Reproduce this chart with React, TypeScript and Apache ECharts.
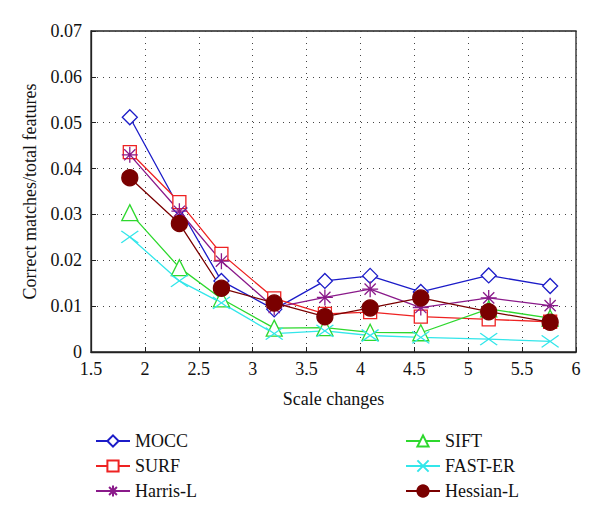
import React, { useEffect, useRef } from "react";
import * as echarts from "echarts";

const scaleX = [1.86, 2.32, 2.71, 3.2, 3.67, 4.09, 4.56, 5.19, 5.76];
const mocc = [0.0512, 0.0314, 0.0155, 0.0093, 0.0155, 0.0166, 0.0131, 0.0167, 0.0144];
const surf = [0.0436, 0.0327, 0.0214, 0.0117, 0.0083, 0.0087, 0.0077, 0.0071, 0.0066];
const harris = [0.043, 0.0307, 0.0198, 0.0097, 0.0119, 0.0137, 0.0097, 0.0118, 0.0101];
const sift = [0.0304, 0.0184, 0.0116, 0.0052, 0.0053, 0.0043, 0.0042, 0.0094, 0.0074];
const fast = [0.0251, 0.0155, 0.0107, 0.004, 0.0046, 0.0036, 0.0032, 0.0028, 0.0023];
const hessian = [0.038, 0.028, 0.0139, 0.0107, 0.0077, 0.0096, 0.0118, 0.0088, 0.0065];

const legendLeft = ["MOCC", "SURF", "Harris-L"];
const legendRight = ["SIFT", "FAST-ER", "Hessian-L"];

const FONT = "Liberation Serif";

const ASTERISK = "path://M0,5 L10,5 M5,0 L5,10 M1.5,1.5 L8.5,8.5 M8.5,1.5 L1.5,8.5";
const XCROSS = "path://M0,0 L14,10 M14,0 L0,10";

function pairs(ys: number[]) {
  return ys.map((y, i) => [scaleX[i], y]);
}

function mk(name: string, ys: number[], color: string, symbol: string, size: any, fill: string) {
  return {
    name,
    type: "line",
    data: pairs(ys),
    symbol,
    symbolSize: size,
    lineStyle: { color, width: 1.3 },
    itemStyle: { color: fill, borderColor: color, borderWidth: 1.3 },
    emphasis: { disabled: true },
  };
}

export default function App() {
  const ref = useRef<HTMLDivElement>(null);
  useEffect(() => {
    if (!ref.current) return;
    const chart = echarts.init(ref.current, null, { renderer: "svg" });
    const legendText = { fontFamily: FONT, fontSize: 18, color: "#111" };
    chart.setOption({
      animation: false,
      backgroundColor: "#fff",
      textStyle: { fontFamily: FONT },
      grid: {
        left: 91,
        right: 24,
        top: 31,
        bottom: 168,
        show: true,
        borderColor: "#222",
        borderWidth: 1.3,
        backgroundColor: "transparent",
      },
      xAxis: {
        type: "value",
        min: 1.5,
        max: 6,
        interval: 0.5,
        name: "Scale changes",
        nameLocation: "middle",
        nameGap: 38,
        nameTextStyle: { fontFamily: FONT, fontSize: 18, color: "#111" },
        axisLine: { show: true, lineStyle: { color: "#222", width: 1.3 } },
        axisTick: { show: true, inside: true, length: 5, lineStyle: { color: "#222" } },
        axisLabel: { fontFamily: FONT, fontSize: 18, color: "#111", margin: 8 },
        splitLine: { show: true, lineStyle: { color: "#444", type: [1, 5], width: 1 } },
      },
      yAxis: {
        type: "value",
        min: 0,
        max: 0.07,
        interval: 0.01,
        name: "Correct matches/total features",
        nameLocation: "middle",
        nameGap: 52,
        nameTextStyle: { fontFamily: FONT, fontSize: 18, color: "#111" },
        axisLine: { show: true, lineStyle: { color: "#222", width: 1.3 } },
        axisTick: { show: true, inside: true, length: 5, lineStyle: { color: "#222" } },
        axisLabel: {
          fontFamily: FONT,
          fontSize: 18,
          color: "#111",
          margin: 9,
          formatter: (v: number) => (v === 0 ? "0" : v.toFixed(2)),
        },
        splitLine: { show: true, lineStyle: { color: "#444", type: [1, 5], width: 1 } },
      },
      legend: [
        {
          data: legendLeft,
          orient: "vertical",
          left: 90,
          top: 427,
          itemWidth: 34,
          itemHeight: 14,
          itemGap: 7,
          textStyle: legendText,
        },
        {
          data: legendRight,
          orient: "vertical",
          left: 400,
          top: 427,
          itemWidth: 34,
          itemHeight: 14,
          itemGap: 7,
          textStyle: legendText,
        },
      ],
      series: [
        mk("MOCC", mocc, "#1c1cc8", "diamond", 15, "#ffffff"),
        mk("SURF", surf, "#ee2222", "rect", 13, "#ffffff"),
        mk("Harris-L", harris, "#8a1a8a", ASTERISK, 16, "#8a1a8a"),
        mk("SIFT", sift, "#2ed82e", "triangle", 16, "#ffffff"),
        mk("FAST-ER", fast, "#33e6ea", XCROSS, [17, 12], "#33e6ea"),
        mk("Hessian-L", hessian, "#7a0000", "circle", 16, "#7a0000"),
      ],
    });
    return () => chart.dispose();
  }, []);
  return (
    <div
      ref={ref}
      style={{ position: "absolute", left: 0, top: 0, width: 600, height: 520 }}
    />
  );
}
